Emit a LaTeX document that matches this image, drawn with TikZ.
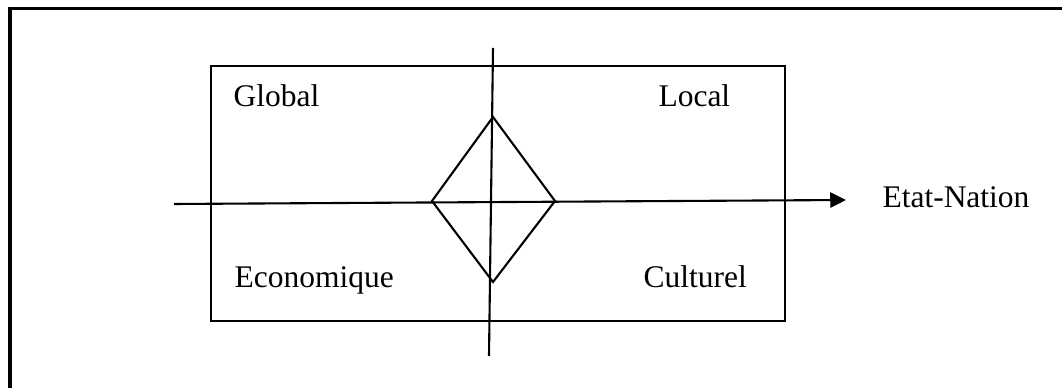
\documentclass[tikz,border=0pt]{standalone}
\usepackage{fontspec}
\setmainfont{Liberation Serif}
\usetikzlibrary{arrows.meta}

\begin{document}
\begin{tikzpicture}[x=0.381pt, y=-0.381pt,
    lbl/.style={anchor=base west, inner sep=0pt, font=\fontsize{12}{14}\selectfont},
    thin frame/.style={line width=0.8pt},
    thick frame/.style={line width=1.15pt}]
  \useasboundingbox (0,0) rectangle (1062,388);
  % outer frame (cropped on the right and bottom)
  \draw[thick frame] (10,395) -- (10,9) -- (1070,9);
  % inner box
  \draw[thin frame] (211,66) rectangle (785,321);
  % axes
  \coordinate (hstart) at (174,204);
  \coordinate (hend) at (846,200);
  \coordinate (vtop) at (493,48);
  \coordinate (vbot) at (489,356);
  \draw[thin frame, -{Triangle[length=6pt, width=5.8pt]}] (hstart) -- (hend);
  \draw[thin frame] (vtop) -- (vbot);
  % diamond
  \coordinate (dN) at (493,117);
  \coordinate (dW) at (432,201);
  \coordinate (dE) at (555,201);
  \coordinate (dS) at (493,282);
  \draw[thin frame, line join=miter] (dN) -- (dE) -- (dS) -- (dW) -- cycle;
  % labels
  \node[lbl] (global) at (233,107) {Global};
  \node[lbl] (local) at (658,107) {Local};
  \node[lbl] (eco) at (234,288) {Economique};
  \node[lbl] (cult) at (643,288) {Culturel};
  \node[lbl] (etat) at (882,208) {Etat-Nation};
\end{tikzpicture}
\end{document}
